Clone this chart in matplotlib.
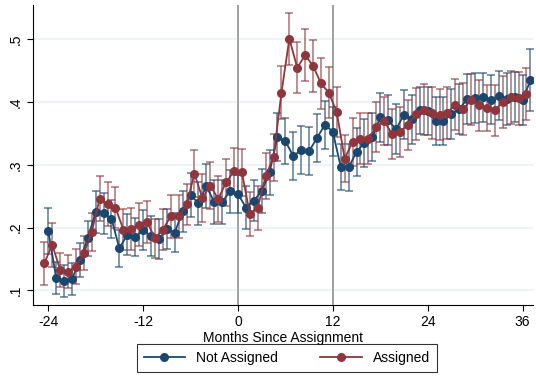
import numpy as np
import matplotlib.pyplot as plt

plt.rcParams['font.family'] = ['Liberation Sans', 'DejaVu Sans']

# Meses desde la asignación (-24 .. 37)
months = np.arange(-24, 38)

# Not Assigned (azul)
not_assigned = [0.195, 0.120, 0.115, 0.118, 0.148, 0.183, 0.225, 0.223, 0.214, 0.167,
                0.189, 0.185, 0.196, 0.187, 0.182, 0.198, 0.192, 0.226, 0.252, 0.239,
                0.266, 0.241, 0.241, 0.258, 0.254, 0.232, 0.243, 0.258, 0.288, 0.345,
                0.338, 0.314, 0.324, 0.322, 0.343, 0.364, 0.353, 0.297, 0.296, 0.321,
                0.335, 0.344, 0.376, 0.371, 0.357, 0.380, 0.373, 0.387, 0.386, 0.370,
                0.370, 0.381, 0.389, 0.405, 0.407, 0.408, 0.404, 0.410, 0.405, 0.408,
                0.403, 0.435]
not_assigned_ci = [0.037, 0.025, 0.025, 0.025, 0.027, 0.028, 0.033, 0.033, 0.030, 0.029,
                   0.033, 0.031, 0.032, 0.032, 0.032, 0.032, 0.031, 0.033, 0.035, 0.034,
                   0.035, 0.035, 0.035, 0.034, 0.030, 0.034, 0.033, 0.035, 0.036, 0.038,
                   0.037, 0.038, 0.038, 0.038, 0.038, 0.038, 0.039, 0.037, 0.037, 0.038,
                   0.038, 0.038, 0.039, 0.040, 0.040, 0.039, 0.039, 0.038, 0.039, 0.039,
                   0.039, 0.040, 0.040, 0.040, 0.040, 0.039, 0.039, 0.039, 0.041, 0.040,
                   0.040, 0.049]

# Assigned (rojo)
assigned = [0.143, 0.173, 0.133, 0.130, 0.138, 0.159, 0.193, 0.246, 0.238, 0.232,
            0.197, 0.198, 0.205, 0.209, 0.183, 0.197, 0.218, 0.218, 0.237, 0.286,
            0.247, 0.267, 0.246, 0.272, 0.290, 0.288, 0.222, 0.232, 0.282, 0.312,
            0.415, 0.501, 0.455, 0.475, 0.458, 0.430, 0.415, 0.384, 0.310, 0.337,
            0.342, 0.342, 0.360, 0.370, 0.349, 0.353, 0.364, 0.381, 0.388, 0.383,
            0.380, 0.383, 0.396, 0.389, 0.404, 0.395, 0.391, 0.387, 0.400, 0.408,
            0.406, 0.413]
assigned_ci = [0.034, 0.035, 0.027, 0.026, 0.028, 0.027, 0.031, 0.036, 0.035, 0.033,
               0.032, 0.033, 0.034, 0.034, 0.031, 0.032, 0.034, 0.034, 0.033, 0.037,
               0.038, 0.037, 0.037, 0.037, 0.037, 0.037, 0.035, 0.035, 0.037, 0.037,
               0.042, 0.041, 0.041, 0.042, 0.041, 0.041, 0.041, 0.040, 0.038, 0.038,
               0.040, 0.040, 0.040, 0.039, 0.040, 0.040, 0.040, 0.041, 0.041, 0.041,
               0.041, 0.041, 0.041, 0.041, 0.041, 0.041, 0.037, 0.041, 0.041, 0.042,
               0.042, 0.041]

x_ticks = [-24, -12, 0, 12, 24, 36]
y_ticks = [0.1, 0.2, 0.3, 0.4, 0.5]
y_labels = ['.1', '.2', '.3', '.4', '.5']

blue = '#1a476f'
red = '#90353b'

fig = plt.figure(figsize=(5.36, 3.81), dpi=100)
ax = fig.add_axes([0.062, 0.2, 0.932, 0.787])

for yt in y_ticks:
    ax.axhline(yt, color='#eaf2f3', lw=1.2, zorder=0)
ax.axvline(0, color='#a0a0a0', lw=1.4, zorder=1)
ax.axvline(12, color='#a0a0a0', lw=1.4, zorder=1)

# el rojo está desplazado medio mes a la izquierda
x_red = months - 0.5

ax.errorbar(months, not_assigned, yerr=not_assigned_ci, fmt='none', ecolor=blue,
            alpha=0.6, elinewidth=1.3, capsize=3, capthick=1.3, zorder=2)
ax.errorbar(x_red, assigned, yerr=assigned_ci, fmt='none', ecolor=red,
            alpha=0.6, elinewidth=1.3, capsize=3, capthick=1.3, zorder=2)
ax.plot(months, not_assigned, '-o', color=blue, lw=1.3, ms=5.5, label='Not Assigned', zorder=3)
ax.plot(x_red, assigned, '-o', color=red, lw=1.3, ms=5.5, label='Assigned', zorder=4)

ax.set_xlim(-25.9, 37.3)
ax.set_ylim(0.077, 0.555)
ax.set_xticks(x_ticks)
ax.set_xticklabels([str(t) for t in x_ticks], fontsize=10)
ax.set_yticks(y_ticks)
ax.set_yticklabels(y_labels, fontsize=10, rotation=90, va='center')
ax.tick_params(length=4, width=0.8, color='black')
ax.spines['top'].set_visible(False)
ax.spines['right'].set_visible(False)
ax.set_xlabel('Months Since Assignment', fontsize=10, labelpad=1)

leg = fig.legend(loc='lower center', bbox_to_anchor=(0.535, 0.005), ncol=2, fontsize=10,
                 frameon=True, fancybox=False, edgecolor='black', handlelength=3,
                 columnspacing=3.0, borderpad=0.5)
leg.get_frame().set_linewidth(0.8)

fig.savefig('out.png', dpi=100)
